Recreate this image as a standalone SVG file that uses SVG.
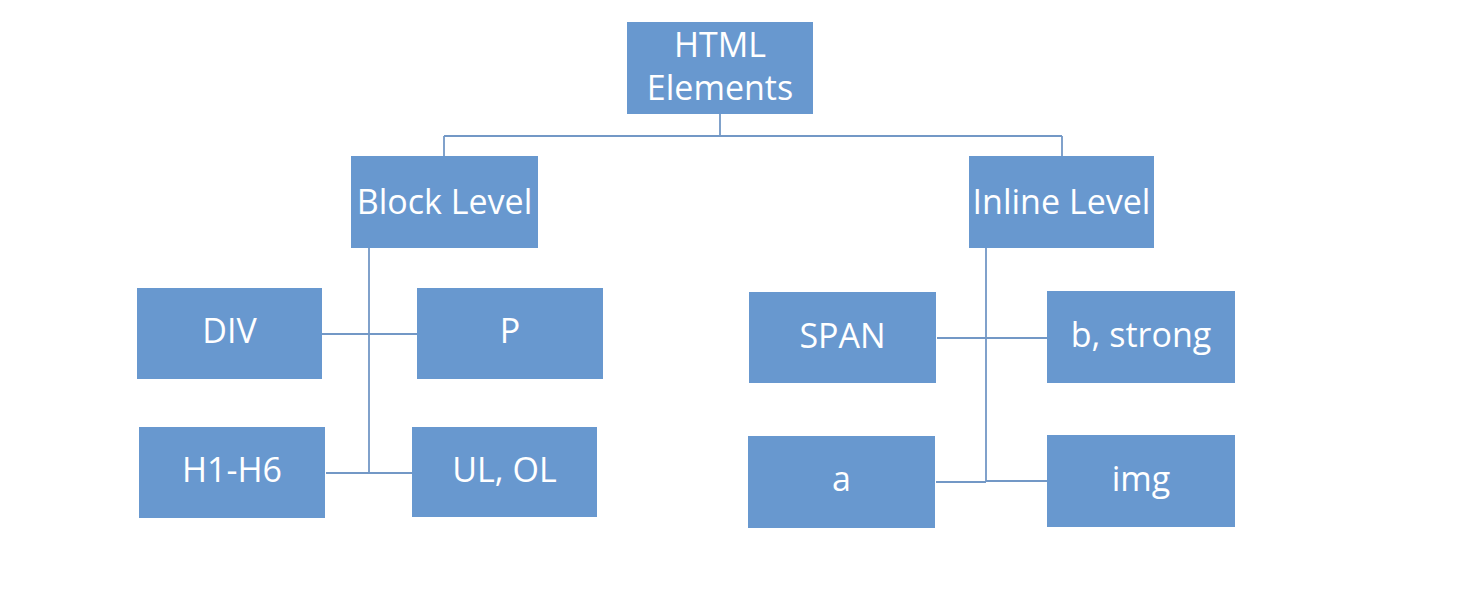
<svg xmlns="http://www.w3.org/2000/svg" width="1480" height="602" viewBox="0 0 1480 602">
  <style>
    .box { fill: #6898cf; }
    .lbl { fill: #ffffff; font-family: "Open Sans", "Noto Sans", "Liberation Sans", sans-serif; font-size: 34px; text-anchor: middle; }
    .wire { fill: none; stroke: #7398c6; stroke-width: 1.8; }
  </style>
  <rect width="1480" height="602" fill="#ffffff"/>

  <!-- connectors -->
  <g id="connectors">
    <path class="wire" d="M720 114 V136 M444 136 H1062 M444 136 V156 M1062 136 V156"/>
    <path class="wire" d="M369 248 V473 M322 334 H417 M326 473 H412"/>
    <path class="wire" d="M986 248 V482 M937 338 H1047 M936 482 H986 M986 481 H1047"/>
  </g>

  <!-- root -->
  <g id="html-elements">
    <rect class="box" x="627" y="22" width="186" height="92"/>
    <text class="lbl" x="720" y="57">HTML</text>
    <text class="lbl" x="720" y="100">Elements</text>
  </g>

  <!-- level groups -->
  <g id="block-level">
    <rect class="box" x="351" y="156" width="187" height="92"/>
    <text class="lbl" x="444.5" y="214">Block Level</text>
  </g>
  <g id="inline-level">
    <rect class="box" x="969" y="156" width="185" height="92"/>
    <text class="lbl" x="1061.5" y="214">Inline Level</text>
  </g>

  <!-- block children -->
  <g id="div">
    <rect class="box" x="137" y="288" width="185" height="91"/>
    <text class="lbl" x="229.5" y="343">DIV</text>
  </g>
  <g id="p">
    <rect class="box" x="417" y="288" width="186" height="91"/>
    <text class="lbl" x="510" y="343">P</text>
  </g>
  <g id="h1-h6">
    <rect class="box" x="139" y="427" width="186" height="91"/>
    <text class="lbl" x="232" y="482">H1-H6</text>
  </g>
  <g id="ul-ol">
    <rect class="box" x="412" y="427" width="185" height="90"/>
    <text class="lbl" x="504.5" y="482">UL, OL</text>
  </g>

  <!-- inline children -->
  <g id="span">
    <rect class="box" x="749" y="292" width="187" height="91"/>
    <text class="lbl" x="842.5" y="347.5">SPAN</text>
  </g>
  <g id="b-strong">
    <rect class="box" x="1047" y="291" width="188" height="92"/>
    <text class="lbl" x="1141" y="347">b, strong</text>
  </g>
  <g id="a">
    <rect class="box" x="748" y="436" width="187" height="92"/>
    <text class="lbl" x="841.5" y="491">a</text>
  </g>
  <g id="img">
    <rect class="box" x="1047" y="435" width="188" height="92"/>
    <text class="lbl" x="1141" y="491">img</text>
  </g>
</svg>
